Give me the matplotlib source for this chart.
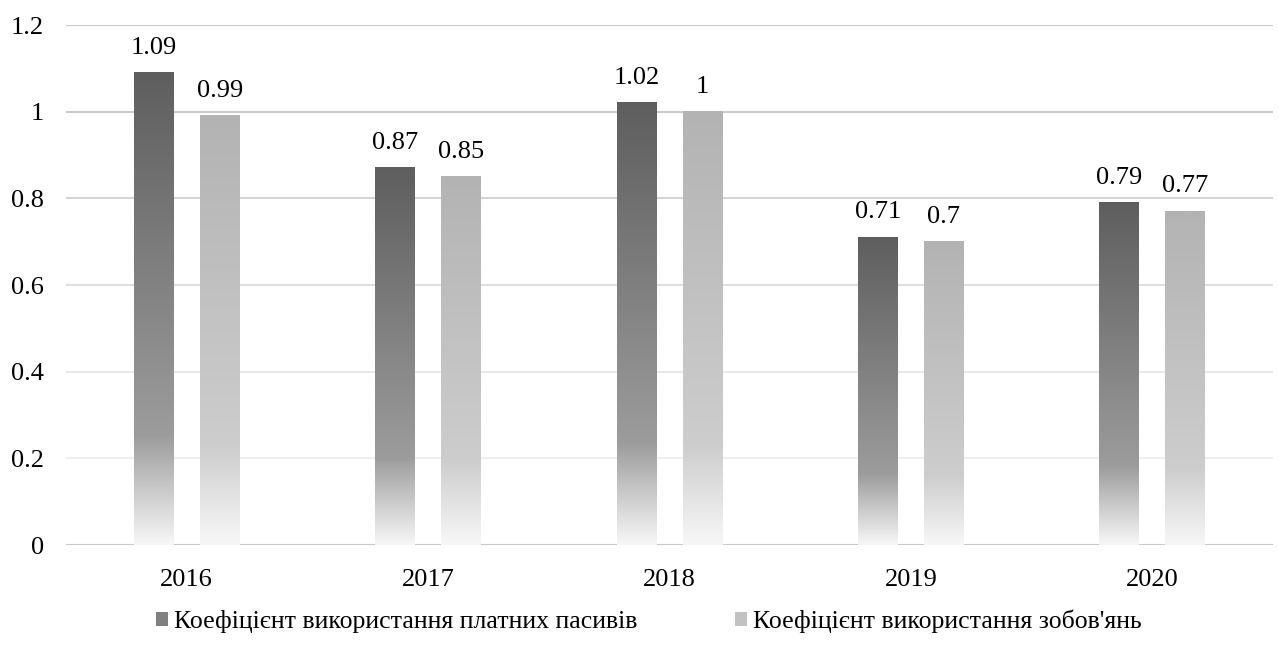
import numpy as np
import matplotlib
matplotlib.use("Agg")
import matplotlib.pyplot as plt
from matplotlib.colors import LinearSegmentedColormap
from matplotlib.patches import Patch

years = ["2016", "2017", "2018", "2019", "2020"]
paid_liab = [1.09, 0.87, 1.02, 0.71, 0.79]
obligations = [0.99, 0.85, 1.00, 0.70, 0.77]
series_names = ["Коефіцієнт використання платних пасивів",
                "Коефіцієнт використання зобов'янь"]
yticks = [0, 0.2, 0.4, 0.6, 0.8, 1.0, 1.2]
ytick_labels = ["0", "0.2", "0.4", "0.6", "0.8", "1", "1.2"]

plt.rcParams['font.family'] = ['Liberation Serif', 'DejaVu Serif']


def grad_cmap(top, mid, bottom, knee=0.23):
    return LinearSegmentedColormap.from_list(
        "g", [(0.0, bottom), (knee, mid), (1.0, top)])


cmap_dark = grad_cmap("#5e5e5e", "#9c9c9c", "#f7f7f7")
cmap_light = grad_cmap("#b3b3b3", "#cdcdcd", "#f7f7f7")


def gradient_bars(ax, bars, cmap):
    grad = np.linspace(0, 1, 256).reshape(-1, 1)
    for b in bars:
        x0 = b.get_x()
        h = b.get_height()
        ax.imshow(grad, cmap=cmap, origin='lower', aspect='auto',
                  extent=[x0, x0 + b.get_width(), 0, h], zorder=2,
                  interpolation='bilinear')
        b.set_visible(False)


fig = plt.figure(figsize=(12.79, 6.46), dpi=100)
ax = fig.add_axes([0.0516, 0.1563, 0.9437, 0.805])

x = np.arange(len(years))
w = 0.165
off = 0.137
b1 = ax.bar(x - off, paid_liab, w, color="#7f7f7f")
b2 = ax.bar(x + off, obligations, w, color="#c0c0c0")
gradient_bars(ax, b1, cmap_dark)
gradient_bars(ax, b2, cmap_light)

for bars, vals in ((b1, paid_liab), (b2, obligations)):
    for b, v in zip(bars, vals):
        ax.annotate(f"{v:g}", (b.get_x() + b.get_width() / 2, v),
                    xytext=(0, 10), textcoords="offset points",
                    ha="center", va="bottom", fontsize=19)

# gridlines fade towards the bottom
grid_cols = ["#c8c8c8", "#efefef", "#e9e9e9", "#dfdfdf", "#d5d5d5", "#cccccc", "#c8c8c8"]
for yv, c in zip(yticks, grid_cols):
    ax.axhline(yv, color=c, lw=1.5, zorder=1)

ax.set_xlim(-0.5, len(years) - 0.5)
ax.set_ylim(0, 1.2)
ax.set_xticks(x)
ax.set_xticklabels(years, fontsize=19)
ax.set_yticks(yticks)
ax.set_yticklabels(ytick_labels, fontsize=19)
ax.tick_params(length=0)
ax.tick_params(axis='y', pad=16)
ax.tick_params(axis='x', pad=17)
for s in ax.spines.values():
    s.set_visible(False)

handles = [Patch(facecolor="#808080"), Patch(facecolor="#c2c2c2")]
fig.legend(handles, series_names, loc="center", bbox_to_anchor=(0.507, 0.038),
           ncol=2, frameon=False, fontsize=18.5, handlelength=0.5,
           handleheight=0.5, handletextpad=0.2, columnspacing=3.8)

fig.savefig("out.png", dpi=100)
